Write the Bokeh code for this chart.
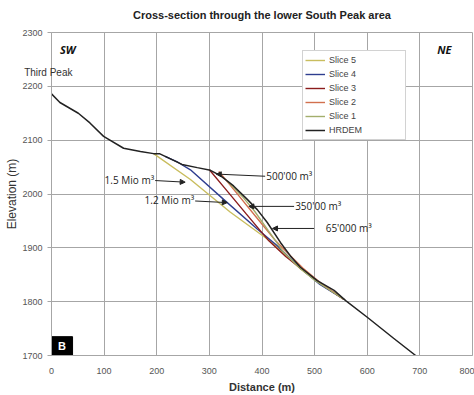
from bokeh.plotting import figure
from bokeh.models import Range1d, FixedTicker, Legend, LegendItem, Label, Arrow, NormalHead
from bokeh.core.properties import value
from bokeh.embed import file_html
from bokeh.resources import INLINE

# ---- data ----
x_ticks = [0, 100, 200, 300, 400, 500, 600, 700, 800]
y_ticks = [1700, 1800, 1900, 2000, 2100, 2200, 2300]

hrdem_x = [0, 16, 51, 73, 99, 137, 169, 194, 205, 216, 248, 277, 302, 321, 346, 372, 391, 410, 435, 454, 473, 505, 537, 559, 600, 650, 692]
hrdem_y = [2186, 2170, 2150, 2132, 2107, 2085, 2079, 2075, 2075, 2070, 2055, 2049, 2044, 2034, 2015, 1990, 1971, 1947, 1910, 1885, 1864, 1839, 1821, 1802, 1771, 1732, 1700]

slice5_x = [194, 264, 340, 419, 473, 515, 556]
slice5_y = [2075, 2027, 1966, 1910, 1861, 1830, 1804]

slice4_x = [216, 240, 264, 327, 391, 429, 470, 510, 556]
slice4_y = [2070, 2059, 2045, 1990, 1935, 1904, 1865, 1832, 1804]

slice3_x = [300, 330, 370, 413, 445, 475, 515, 556]
slice3_y = [2045, 2010, 1963, 1913, 1884, 1861, 1831, 1804]

slice2_x = [318, 350, 390, 426, 452, 478, 515, 556]
slice2_y = [2042, 2004, 1956, 1913, 1887, 1862, 1832, 1804]

slice1_x = [334, 362, 386, 412, 441, 468, 500, 556]
slice1_y = [2024, 1996, 1968, 1932, 1892, 1866, 1840, 1804]

labels = ["1.5 Mio m³", "1.2 Mio m³", "500'00 m³", "350'00 m³", "65'000 m³"]
label_x = [195, 271, 408, 463, 521]
label_y = [2026, 1988, 2034, 1977, 1936]
label_align = ["right", "right", "left", "left", "left"]
arrow_x0 = [197, 273, 406, 461, 499]
arrow_y0 = [2025, 1987, 2033, 1977, 1936]
arrow_x1 = [254, 334, 313, 375, 420]
arrow_y1 = [2022, 1984, 2037, 1977, 1936]

FONT = "Liberation Sans"

p = figure(width=474, height=395, output_backend="svg", toolbar_location=None,
           x_range=Range1d(0, 800), y_range=Range1d(1700, 2300),
           min_border_left=51, min_border_right=2, min_border_top=32, min_border_bottom=38,
           title="Cross-section through the lower South Peak area")
p.title.text_font = FONT
p.title.text_font_size = "11px"
p.title.text_font_style = "bold"
p.title.align = "center"
p.title.text_color = "#222222"
p.title.standoff = 2

p.background_fill_color = "white"
p.border_fill_color = "white"
p.outline_line_color = "#a6a6a6"

for ax, ticks in ((p.xaxis[0], x_ticks), (p.yaxis[0], y_ticks)):
    ax.ticker = FixedTicker(ticks=ticks)
    ax.axis_line_color = "#a6a6a6"
    ax.major_tick_line_color = "#a6a6a6"
    ax.minor_tick_line_color = None
    ax.major_tick_in = 0
    ax.major_label_text_font = FONT
    ax.major_label_text_font_size = "9px"
    ax.major_label_text_color = "#555555"
    ax.axis_label_text_font = FONT
    ax.axis_label_text_color = "#333333"

p.xaxis.major_tick_out = 0
p.xaxis.major_label_standoff = 12
p.xaxis.axis_label = "Distance (m)"
p.xaxis.axis_label_text_font_size = "11px"
p.xaxis.axis_label_text_font_style = "bold"
p.xaxis.axis_label_standoff = 4

p.yaxis.major_tick_out = 4
p.yaxis.major_label_standoff = 5
p.yaxis.axis_label = "Elevation (m)"
p.yaxis.axis_label_text_font_size = "12px"
p.yaxis.axis_label_text_font_style = "normal"
p.yaxis.axis_label_standoff = 0

p.xgrid.ticker = FixedTicker(ticks=x_ticks)
p.ygrid.ticker = FixedTicker(ticks=y_ticks)
p.grid.grid_line_color = "#a6a6a6"
p.grid.grid_line_width = 1

r5 = p.line(slice5_x, slice5_y, line_color="#c9bd5e", line_width=1.4)
r4 = p.line(slice4_x, slice4_y, line_color="#2e3d8f", line_width=1.4)
r3 = p.line(slice3_x, slice3_y, line_color="#8b1c1c", line_width=1.4)
r2 = p.line(slice2_x, slice2_y, line_color="#d2704e", line_width=1.4)
r1 = p.line(slice1_x, slice1_y, line_color="#a3ae6c", line_width=1.4)
rh = p.line(hrdem_x, hrdem_y, line_color="#222222", line_width=1.5)

legend = Legend(items=[
    LegendItem(label="Slice 5", renderers=[r5]),
    LegendItem(label="Slice 4", renderers=[r4]),
    LegendItem(label="Slice 3", renderers=[r3]),
    LegendItem(label="Slice 2", renderers=[r2]),
    LegendItem(label="Slice 1", renderers=[r1]),
    LegendItem(label="HRDEM", renderers=[rh]),
], location=(251, 215))
legend.label_text_font = FONT
legend.label_text_font_size = "9px"
legend.label_text_color = "#444444"
legend.label_height = 14
legend.glyph_height = 14
legend.glyph_width = 20
legend.spacing = 0
legend.padding = 2
legend.margin = 0
legend.label_standoff = 4
legend.label_width = 74
legend.border_line_color = "#a6a6a6"
legend.border_line_width = 1
legend.background_fill_color = "white"
legend.background_fill_alpha = 1
p.add_layout(legend, "center")

# volume annotations
for t, lx, ly, al in zip(labels, label_x, label_y, label_align):
    p.add_layout(Label(x=lx, y=ly, text=t, text_align=al, text_baseline="middle",
                       text_font="Open Sans", text_font_size="10px", text_color="#222222"))
for x0, y0, x1, y1 in zip(arrow_x0, arrow_y0, arrow_x1, arrow_y1):
    p.add_layout(Arrow(x_start=x0, y_start=y0, x_end=x1, y_end=y1, line_color="#222222", line_width=1,
                       end=NormalHead(size=5, fill_color="#222222", line_color="#222222")))

# direction / site labels
p.add_layout(Label(x=16, y=2268, text="SW", text_baseline="middle", text_font="Open Sans",
                   text_font_size="11px", text_font_style="bold italic", text_color="#111111"))
p.add_layout(Label(x=733, y=2268, text="NE", text_baseline="middle", text_font="Open Sans",
                   text_font_size="11px", text_font_style="bold italic", text_color="#111111"))
# placed in the side panel so that it may extend past the frame edge
p.add_layout(Label(x=-52, y=2226, text="Third Peak", text_baseline="middle", text_font=FONT,
                   text_font_size="10px", text_color="#333333"), "above")

# panel marker
p.quad(left=[0], right=[40], bottom=[1700], top=[1735], fill_color="black", line_color="black")
p.text(x=[20], y=[1717], text=["B"], text_align="center", text_baseline="middle",
       text_font=value(FONT), text_font_size="11px", text_font_style="bold", text_color="white")

open("out.html", "w").write(file_html(p, INLINE))
